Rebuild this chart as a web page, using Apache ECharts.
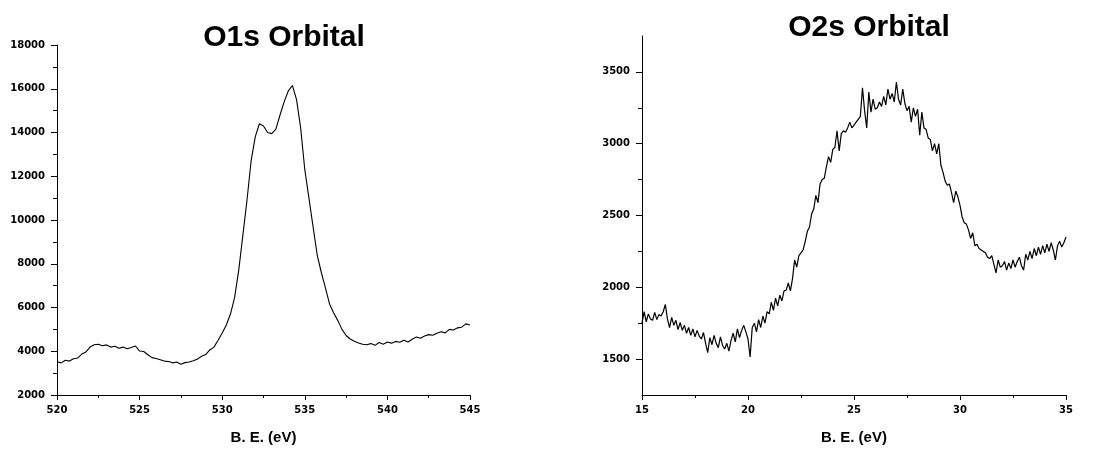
<!DOCTYPE html>
<html>
<head>
<meta charset="utf-8">
<script src="https://cdn.jsdelivr.net/npm/echarts@6/dist/echarts.min.js"></script>
<style>
  html, body { margin: 0; padding: 0; background: #fff; }
  #main { width: 1099px; height: 450px; }
</style>
</head>
<body>
<div id="main"></div>
<script>
// O1s spectrum, binding energy (eV) and counts
const o1sEnergy = [
  520.00, 520.25, 520.50, 520.75, 521.00, 521.25, 521.50, 521.75, 522.00, 522.25,
  522.50, 522.75, 523.00, 523.25, 523.50, 523.75, 524.00, 524.25, 524.50, 524.75,
  525.00, 525.25, 525.50, 525.75, 526.00, 526.25, 526.50, 526.75, 527.00, 527.25,
  527.50, 527.75, 528.00, 528.25, 528.50, 528.75, 529.00, 529.25, 529.50, 529.75,
  530.00, 530.25, 530.50, 530.75, 531.00, 531.25, 531.50, 531.75, 532.00, 532.25,
  532.50, 532.75, 533.00, 533.25, 533.50, 533.75, 534.00, 534.25, 534.50, 534.75,
  535.00, 535.25, 535.50, 535.75, 536.00, 536.25, 536.50, 536.75, 537.00, 537.25,
  537.50, 537.75, 538.00, 538.25, 538.50, 538.75, 539.00, 539.25, 539.50, 539.75,
  540.00, 540.25, 540.50, 540.75, 541.00, 541.25, 541.50, 541.75, 542.00, 542.25,
  542.50, 542.75, 543.00, 543.25, 543.50, 543.75, 544.00, 544.25, 544.50, 544.75,
  545.00
];
const o1sCounts = [
  3520, 3470, 3590, 3550, 3660, 3690, 3870, 3970, 4190, 4300,
  4320, 4250, 4290, 4190, 4230, 4140, 4190, 4110, 4170, 4240,
  4010, 3990, 3840, 3710, 3670, 3610, 3550, 3530, 3470, 3510,
  3410, 3480, 3510, 3570, 3640, 3770, 3850, 4060, 4190, 4500,
  4830, 5200, 5700, 6450, 7700, 9300, 10900, 12700, 13800, 14400,
  14300, 14000, 13950, 14150, 14800, 15400, 15900, 16150, 15500, 14200,
  12300, 11000, 9700, 8400, 7600, 6900, 6150, 5750, 5400, 5000,
  4720, 4560, 4460, 4380, 4320, 4300, 4350, 4270, 4400, 4320,
  4420, 4370, 4450, 4410, 4500, 4420, 4550, 4650, 4590, 4700,
  4760, 4730, 4820, 4890, 4840, 5000, 4970, 5070, 5100, 5250,
  5200
];

// O2s spectrum
const o2sEnergy = [
  15.0, 15.1, 15.2, 15.3, 15.4, 15.5, 15.6, 15.7, 15.8, 15.9,
  16.0, 16.1, 16.2, 16.3, 16.4, 16.5, 16.6, 16.7, 16.8, 16.9,
  17.0, 17.1, 17.2, 17.3, 17.4, 17.5, 17.6, 17.7, 17.8, 17.9,
  18.0, 18.1, 18.2, 18.3, 18.4, 18.5, 18.6, 18.7, 18.8, 18.9,
  19.0, 19.1, 19.2, 19.3, 19.4, 19.5, 19.6, 19.7, 19.8, 19.9,
  20.0, 20.1, 20.2, 20.3, 20.4, 20.5, 20.6, 20.7, 20.8, 20.9,
  21.0, 21.1, 21.2, 21.3, 21.4, 21.5, 21.6, 21.7, 21.8, 21.9,
  22.0, 22.1, 22.2, 22.3, 22.4, 22.5, 22.6, 22.7, 22.8, 22.9,
  23.0, 23.1, 23.2, 23.3, 23.4, 23.5, 23.6, 23.7, 23.8, 23.9,
  24.0, 24.1, 24.2, 24.3, 24.4, 24.5, 24.6, 24.7, 24.8, 24.9,
  25.0, 25.1, 25.2, 25.3, 25.4, 25.5, 25.6, 25.7, 25.8, 25.9,
  26.0, 26.1, 26.2, 26.3, 26.4, 26.5, 26.6, 26.7, 26.8, 26.9,
  27.0, 27.1, 27.2, 27.3, 27.4, 27.5, 27.6, 27.7, 27.8, 27.9,
  28.0, 28.1, 28.2, 28.3, 28.4, 28.5, 28.6, 28.7, 28.8, 28.9,
  29.0, 29.1, 29.2, 29.3, 29.4, 29.5, 29.6, 29.7, 29.8, 29.9,
  30.0, 30.1, 30.2, 30.3, 30.4, 30.5, 30.6, 30.7, 30.8, 30.9,
  31.0, 31.1, 31.2, 31.3, 31.4, 31.5, 31.6, 31.7, 31.8, 31.9,
  32.0, 32.1, 32.2, 32.3, 32.4, 32.5, 32.6, 32.7, 32.8, 32.9,
  33.0, 33.1, 33.2, 33.3, 33.4, 33.5, 33.6, 33.7, 33.8, 33.9,
  34.0, 34.1, 34.2, 34.3, 34.4, 34.5, 34.6, 34.7, 34.8, 34.9,
  35.0
];
const o2sCounts = [
  1750, 1830, 1760, 1815, 1780, 1770, 1825, 1775, 1810, 1800,
  1830, 1880, 1780, 1720, 1790, 1735, 1770, 1705, 1755, 1700,
  1735, 1680, 1720, 1665, 1710, 1655, 1700, 1660, 1640, 1685,
  1610, 1545, 1650, 1600, 1665, 1610, 1580, 1655, 1595, 1570,
  1610, 1555, 1630, 1680, 1620, 1710, 1650, 1700, 1735, 1690,
  1640, 1515, 1720, 1750, 1690, 1775, 1720, 1800, 1750, 1830,
  1815, 1895, 1840, 1925, 1870, 1945, 1905, 1975, 1980, 2030,
  1975, 2060, 2190, 2140, 2220, 2240, 2260, 2320, 2390, 2420,
  2510, 2545, 2640, 2590, 2720, 2750, 2760, 2840, 2910, 2870,
  2960, 2975, 3090, 2950, 3070, 3090, 3080, 3110, 3150, 3110,
  3130, 3150, 3170, 3190, 3390, 3230, 3110, 3360, 3220, 3310,
  3240, 3250, 3290, 3260, 3330, 3270, 3380, 3310, 3350, 3290,
  3430, 3310, 3270, 3380, 3280, 3230, 3260, 3150, 3250, 3190,
  3240, 3060, 3220, 3110, 3100, 3040, 3030, 2950, 3000, 2930,
  3000, 2850, 2800, 2740, 2710, 2720, 2660, 2590, 2670, 2630,
  2570, 2490, 2450, 2440, 2400, 2340, 2380, 2290, 2300, 2270,
  2260, 2250, 2240, 2210, 2200, 2220, 2160, 2100, 2190, 2140,
  2150, 2180, 2120, 2170, 2130, 2190, 2140, 2180, 2210, 2150,
  2120, 2230, 2190, 2250, 2200, 2270, 2220, 2280, 2230, 2290,
  2240, 2300, 2250, 2310, 2260, 2190, 2290, 2320, 2280, 2310,
  2350
];

const o2sMajorTicks = [1500, 2000, 2500, 3000, 3500];
const o2sMinorTicks = [1750, 2250, 2750, 3250];

const pairs = (xs, ys) => xs.map((x, i) => [x, ys[i]]);
const plain = (v) => String(v);

const tickFont = {
  color: '#000',
  fontSize: 10,
  fontWeight: 'bold',
  fontFamily: 'DejaVu Sans, Arial, sans-serif',
  formatter: plain
};
const nameFont = {
  color: '#000',
  fontSize: 15,
  fontWeight: 'bold',
  fontFamily: 'Arial, Liberation Sans, sans-serif'
};
const titleFont = {
  color: '#000',
  fontSize: 30,
  fontWeight: 'bold',
  fontFamily: 'Arial, Liberation Sans, sans-serif'
};
const axisLine = { show: true, lineStyle: { color: '#000', width: 1 } };

const chart = echarts.init(document.getElementById('main'));
chart.setOption({
  animation: false,
  backgroundColor: '#fff',
  title: [
    { text: 'O1s Orbital', left: 279, top: 18, textAlign: 'center', textStyle: titleFont },
    { text: 'O2s Orbital', left: 864, top: 8, textAlign: 'center', textStyle: titleFont }
  ],
  grid: [
    { left: 57, top: 45, width: 413, height: 354 },
    { left: 642, top: 36, width: 424, height: 360 }
  ],
  xAxis: [
    {
      type: 'value', gridIndex: 0, min: 520, max: 545, interval: 5,
      name: 'B. E. (eV)', nameLocation: 'middle', nameGap: 35, nameTextStyle: nameFont,
      axisLine: axisLine,
      axisTick: { show: true, length: 5, lineStyle: { color: '#000' } },
      minorTick: { show: true, splitNumber: 2, length: 3, lineStyle: { color: '#000' } },
      axisLabel: Object.assign({ margin: 10 }, tickFont),
      splitLine: { show: false }
    },
    {
      type: 'value', gridIndex: 1, min: 15, max: 35, interval: 5,
      name: 'B. E. (eV)', nameLocation: 'middle', nameGap: 35, nameTextStyle: nameFont,
      axisLine: axisLine,
      axisTick: { show: true, length: 5, lineStyle: { color: '#000' } },
      minorTick: { show: true, splitNumber: 2, length: 3, lineStyle: { color: '#000' } },
      axisLabel: Object.assign({ margin: 10 }, tickFont),
      splitLine: { show: false }
    }
  ],
  yAxis: [
    {
      type: 'value', gridIndex: 0, min: 2000, max: 18000, interval: 2000,
      axisLine: axisLine,
      axisTick: { show: true, length: 6, lineStyle: { color: '#000' } },
      minorTick: { show: true, splitNumber: 2, length: 4, lineStyle: { color: '#000' } },
      axisLabel: Object.assign({ margin: 12 }, tickFont),
      splitLine: { show: false }
    },
    {
      type: 'value', gridIndex: 1, position: 'left', min: 1250, max: 3750,
      axisLine: axisLine,
      axisTick: { show: true, length: 6, customValues: o2sMajorTicks, lineStyle: { color: '#000' } },
      axisLabel: Object.assign({ margin: 12, customValues: o2sMajorTicks }, tickFont),
      splitLine: { show: false }
    },
    {
      type: 'value', gridIndex: 1, position: 'left', offset: 0, min: 1250, max: 3750,
      axisLine: { show: false },
      axisTick: { show: true, length: 4, customValues: o2sMinorTicks, lineStyle: { color: '#000' } },
      axisLabel: { show: false },
      splitLine: { show: false }
    }
  ],
  series: [
    {
      type: 'line', xAxisIndex: 0, yAxisIndex: 0,
      data: pairs(o1sEnergy, o1sCounts),
      showSymbol: false, lineStyle: { color: '#000', width: 1.1 }
    },
    {
      type: 'line', xAxisIndex: 1, yAxisIndex: 1,
      data: pairs(o2sEnergy, o2sCounts),
      showSymbol: false, lineStyle: { color: '#000', width: 1.2 }
    }
  ]
});
</script>
</body>
</html>
